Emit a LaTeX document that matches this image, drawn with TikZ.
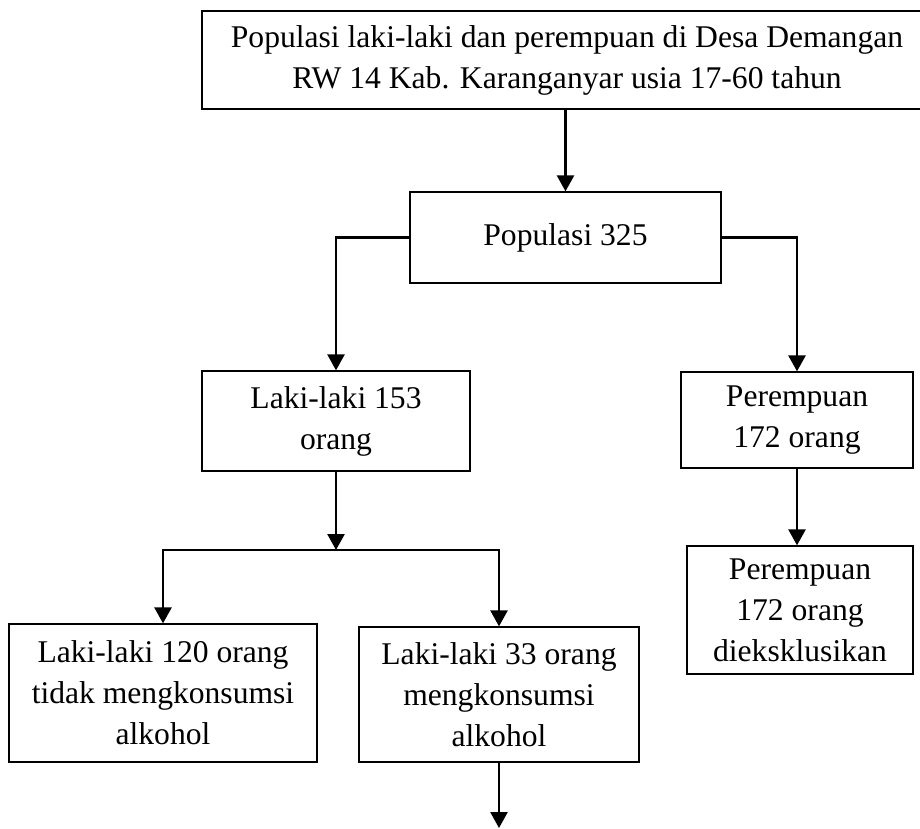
\documentclass[tikz,border=0pt]{standalone}
\usepackage{fontspec}
\setmainfont{Liberation Serif}
\usetikzlibrary{arrows.meta}
\begin{document}
\begin{tikzpicture}[x=1pt,y=-1pt,
  box/.style={draw, line width=1.3pt, rectangle, align=center, inner sep=0pt,
    font=\fontsize{31.6}{41}\selectfont},
  conn/.style={line width=2.6pt, -{Triangle[length=16pt,width=17pt]}}]
\clip (0,0) rectangle (920,828);
\fill[white] (0,0) rectangle (920,828);
\node[box, minimum width=730pt, minimum height=98pt] (top) at (567,60)
  {Populasi laki-laki dan perempuan di Desa Demangan\\RW 14 Kab. Karanganyar usia 17-60 tahun};
\node[box, minimum width=311pt, minimum height=91pt] (pop) at (565.5,237.5) {Populasi 325};
\node[box, minimum width=268pt, minimum height=100pt] (l153) at (336,421) {Laki-laki 153\\orang};
\node[box, minimum width=232pt, minimum height=96pt] (p172) at (797,420) {Perempuan\\172 orang};
\node[box, minimum width=226pt, minimum height=128pt] (exc) at (800,610) {Perempuan\\172 orang\\dieksklusikan};
\node[box, minimum width=308pt, minimum height=138pt] (l120) at (163,693) {Laki-laki 120 orang\\tidak mengkonsumsi\\alkohol};
\node[box, minimum width=280pt, minimum height=135pt] (l33) at (499,694.5) {Laki-laki 33 orang\\mengkonsumsi\\alkohol};
\coordinate (split) at (336,550);
\coordinate (end) at (499,828);
\draw[conn] (top.south -| pop.north) -- (pop.north);
\draw[conn] (pop.west) -| (l153.north);
\draw[conn] (pop.east) -| (p172.north);
\draw[conn] (p172.south) -- (p172.south |- exc.north);
\draw[conn] (l153.south) -- (split);
\draw[conn] (split) -| (l120.north);
\draw[conn] (split) -| (l33.north);
\draw[conn] (l33.south) -- (end);
\end{tikzpicture}
\end{document}
